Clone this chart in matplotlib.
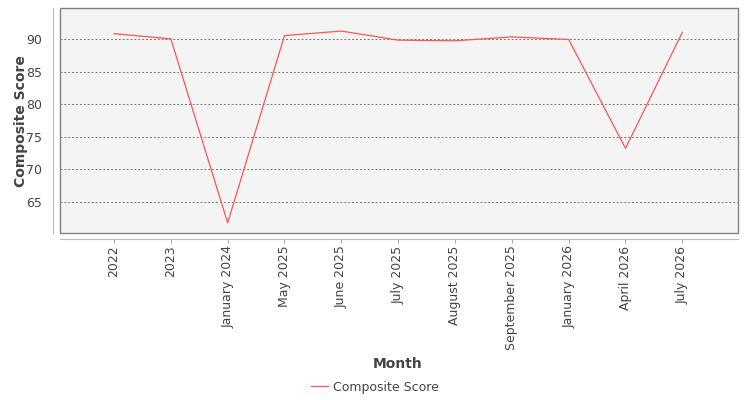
import matplotlib
matplotlib.use("Agg")
import matplotlib.pyplot as plt
from matplotlib.patches import Rectangle

months = ["2022", "2023", "January 2024", "May 2025", "June 2025", "July 2025",
          "August 2025", "September 2025", "January 2026", "April 2026", "July 2026"]
scores = [90.9, 90.1, 61.7, 90.6, 91.3, 89.9, 89.8, 90.4, 90.0, 73.2, 91.1]
yticks = [65, 70, 75, 80, 85, 90]

text_color = "#444444"
fig = plt.figure(figsize=(7.5, 4.0), dpi=100)
ax = fig.add_axes([60/750, 1-233/400, 678/750, 225/400])
ax.set_facecolor("#f4f4f4")

for s in ["top", "right"]:
    ax.spines[s].set_visible(False)
ax.spines["left"].set_position(("outward", 5))
ax.spines["bottom"].set_position(("outward", 4))
ax.spines["left"].set_color("#bbbbbb")
ax.spines["bottom"].set_color("#bbbbbb")

x = list(range(len(months)))
line, = ax.plot(x, scores, color="#ff5555", linewidth=0.9, label="Composite Score")

ax.set_xlim(-0.95, 10.98)
ax.set_ylim(60.14, 94.86)
ax.set_xticks(x)
ax.set_xticklabels(months, rotation=90, fontsize=9, color=text_color)
ax.set_yticks(yticks)
ax.set_yticklabels([str(v) for v in yticks], fontsize=9, color=text_color)
ax.tick_params(axis="y", length=0, pad=8)
ax.tick_params(axis="x", length=3, color="#aaaaaa", pad=2)

ax.grid(axis="y", color="#777777", linestyle=(0, (2, 2)), linewidth=0.7)
ax.set_axisbelow(True)

ax.add_patch(Rectangle((0, 0), 1, 1, transform=ax.transAxes, fill=False,
                       edgecolor="#808080", linewidth=1, clip_on=False, zorder=5))

fig.text(21/750, 1-121/400, "Composite Score", fontsize=10, fontweight="bold",
         color=text_color, rotation=90, ha="center", va="center")
fig.text(398/750, 1-364/400, "Month", fontsize=10, fontweight="bold", color=text_color,
         ha="center", va="center")

leg = fig.legend(handles=[line], loc="center", bbox_to_anchor=(375/750, 1-387/400),
                 frameon=False, fontsize=9, handlelength=1.3, handletextpad=0.4)
for t in leg.get_texts():
    t.set_color(text_color)

fig.savefig("out.png", dpi=100)
